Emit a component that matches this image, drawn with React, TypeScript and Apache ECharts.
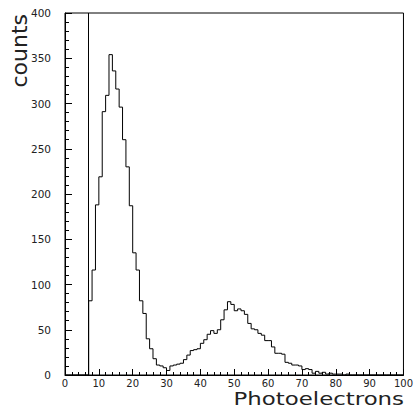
import React, { useEffect, useRef } from "react";
import * as echarts from "echarts";

// Histogram bins: unit width, starting at x = 0
const binStart = 0;
const counts = [
  0, 0, 0, 0, 0, 0, 0,
  82, 116, 188, 219, 291, 309, 354, 336, 316, 296,
  260, 230, 187, 135, 116, 82, 68, 40, 29, 18,
  11, 10, 8, 5, 10, 11, 12, 13, 17, 22,
  27, 28, 29, 35, 39, 45, 49, 46, 50, 61,
  72, 81, 78, 71, 73, 71, 67, 57, 51, 50,
  46, 44, 38, 38, 31, 24, 24, 23, 14, 13,
  11, 11, 10, 6, 7, 6, 2, 4, 2, 3,
  1, 2, 1, 1, 1, 0, 1, 0, 0, 0,
  0, 0, 0, 0, 0, 0, 0, 0, 0, 0, 0, 0, 0,
];
const cutPosition = 7;
const xTicks = [0, 10, 20, 30, 40, 50, 60, 70, 80, 90, 100];
const yTicks = [0, 50, 100, 150, 200, 250, 300, 350, 400];
const xTitle = "Photoelectrons";
const yTitle = "counts";

export default function App() {
  const ref = useRef<HTMLDivElement>(null);
  useEffect(() => {
    document.body.style.margin = "0";
    if (!ref.current) return;
    const chart = echarts.init(ref.current, undefined, { renderer: "svg" });
    const data: [number, number][] = counts.map((c, i) => [binStart + i, c]);
    data.push([binStart + counts.length, 0]);
    const font = "DejaVu Sans";
    chart.setOption({
      animation: false,
      backgroundColor: "#fff",
      grid: {
        left: 65,
        right: 12,
        top: 13,
        bottom: 34,
        show: true,
        borderColor: "#000",
        borderWidth: 1,
      },
      xAxis: {
        type: "value",
        min: xTicks[0],
        max: xTicks[xTicks.length - 1],
        interval: 10,
        axisLine: { show: true, lineStyle: { color: "#000", width: 1 } },
        axisTick: { show: true, inside: true, length: 6, lineStyle: { color: "#000" } },
        minorTick: { show: true, splitNumber: 5, length: 3, lineStyle: { color: "#000" } },
        splitLine: { show: false },
        axisLabel: { color: "#222", fontFamily: font, fontSize: 10, lineHeight: 10, margin: 3 },
      },
      yAxis: {
        type: "value",
        min: yTicks[0],
        max: yTicks[yTicks.length - 1],
        interval: 50,
        axisLine: { show: true, lineStyle: { color: "#000", width: 1 } },
        axisTick: { show: true, inside: true, length: 7, lineStyle: { color: "#000" } },
        minorTick: { show: true, splitNumber: 5, length: 4, lineStyle: { color: "#000" } },
        splitLine: { show: false },
        axisLabel: { color: "#222", fontFamily: font, fontSize: 10.5, margin: 14 },
      },
      graphic: [
        {
          type: "text",
          x: 19,
          y: 14,
          rotation: Math.PI / 2,
          style: {
            text: yTitle,
            fontFamily: font,
            fontSize: 22,
            fill: "#222",
            textAlign: "right",
            textVerticalAlign: "middle",
          },
        },
        {
          type: "text",
          x: 404,
          y: 398.5,
          scaleX: 1.27,
          style: {
            text: xTitle,
            fontFamily: font,
            fontSize: 18,
            lineHeight: 18,
            fill: "#222",
            textAlign: "right",
            textVerticalAlign: "middle",
          },
        },
      ],
      series: [
        {
          type: "line",
          step: "end",
          data,
          showSymbol: false,
          symbol: "none",
          lineStyle: { color: "#000", width: 1 },
          markLine: {
            silent: true,
            symbol: "none",
            label: { show: false },
            lineStyle: { color: "#000", width: 1, type: "solid" },
            data: [{ xAxis: cutPosition }],
          },
        },
      ],
    });
    return () => chart.dispose();
  }, []);
  return <div ref={ref} style={{ width: 416, height: 409 }} />;
}
